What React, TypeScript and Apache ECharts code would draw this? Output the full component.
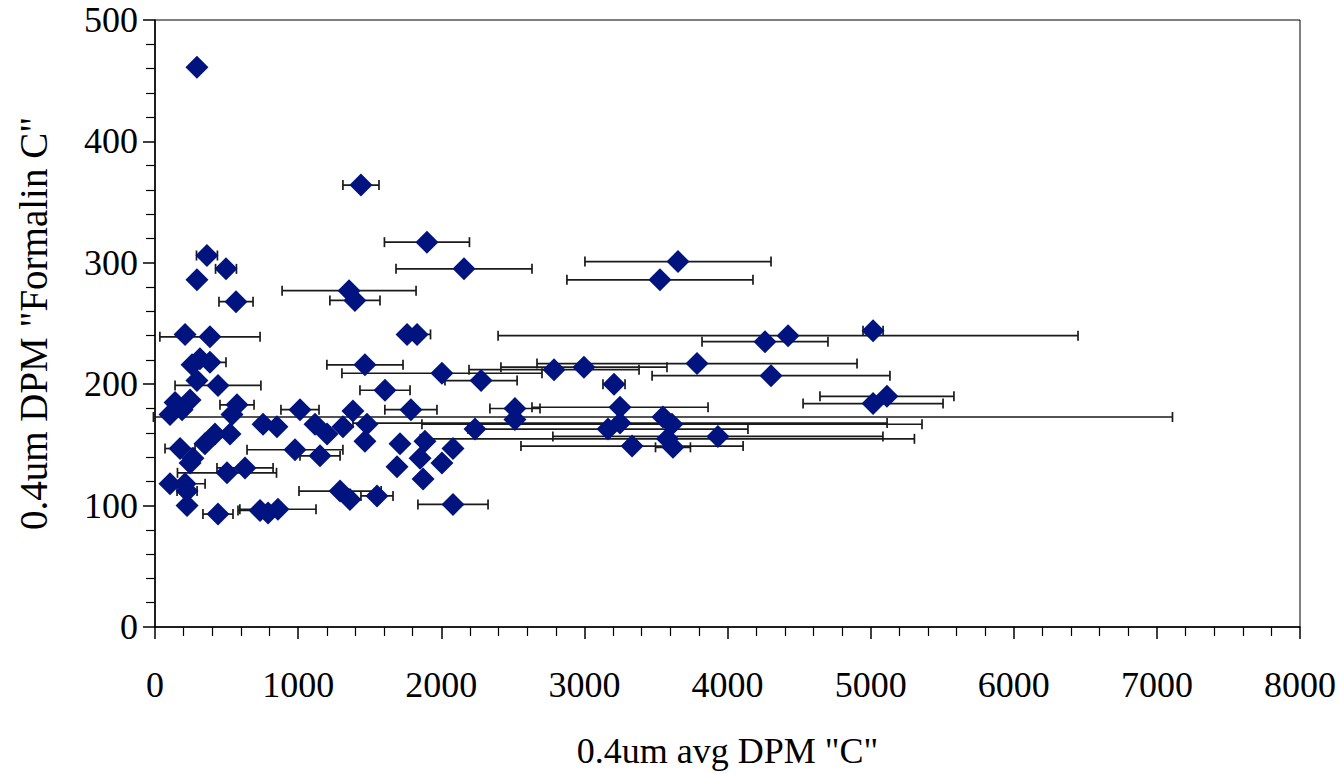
import React, { useEffect, useRef } from "react";
import * as echarts from "echarts";

// 0.4um avg DPM "C" (x), 0.4um DPM "Formalin C" (y), horizontal error (± x)
const xValues = [
  293, 1439, 1900, 2159, 1356, 1397, 363, 496, 293, 566,
  210, 384, 1761, 1831, 314, 384, 259, 293, 440, 140,
  245, 105, 189, 573, 538, 524, 755, 852, 175, 349,
  419, 265, 245, 978, 503, 629, 105, 210, 224, 224,
  440, 734, 790, 859, 1607, 1013, 1383, 1788, 1118, 1202,
  1313, 1481, 1467, 1712, 1886, 2082, 1153, 1691, 1852, 2005,
  1873, 1293, 1362, 1551, 2082, 2515, 2515, 2236, 3249, 3165,
  3249, 3333, 3549, 3612, 3580, 3619, 3933, 3787, 4304, 3207,
  2788, 2997, 2005, 2278, 1467, 3654, 3528, 5017, 4423, 4262,
  5114, 5017,
];
const yValues = [
  461, 364, 317, 295, 277, 269, 306, 295, 286, 268,
  241, 239, 241, 241, 221, 218, 216, 203, 199, 185,
  187, 175, 179, 183, 175, 159, 167, 165, 147, 151,
  159, 139, 135, 146, 127, 131, 118, 118, 112, 100,
  93, 96, 94, 97, 195, 179, 178, 179, 167, 159,
  165, 167, 153, 151, 153, 147, 141, 132, 139, 135,
  122, 112, 105, 108, 101, 180, 171, 163, 181, 163,
  168, 149, 173, 167, 155, 148, 157, 217, 207, 200,
  212, 214, 209, 203, 216, 301, 286, 244, 240, 235,
  190, 184,
];
const xErrors = [
  0, 126, 297, 475, 468, 175, 73, 73, 0, 119,
  0, 350, 0, 94, 0, 112, 0, 0, 300, 0,
  0, 0, 0, 119, 0, 0, 0, 0, 105, 0,
  0, 0, 0, 335, 346, 196, 0, 140, 70, 0,
  105, 154, 0, 266, 175, 133, 0, 182, 0, 0,
  0, 0, 0, 0, 0, 0, 140, 0, 0, 0,
  0, 287, 0, 112, 245, 175, 0, 0, 615, 978,
  1866, 776, 3560, 1747, 1726, 122, 1153, 1118, 831, 77,
  594, 580, 699, 252, 266, 650, 650, 70, 2026, 440,
  468, 489,
];

const xAxisTitle = '0.4um avg DPM "C"';
const yAxisTitle = '0.4um DPM "Formalin C"';

const FONT = "'Liberation Serif', 'DejaVu Serif', serif";

export default function App() {
  const ref = useRef<HTMLDivElement>(null);

  useEffect(() => {
    if (!ref.current) return;
    const chart = echarts.init(ref.current, null, { renderer: "svg" });

    const points = xValues.map((x, i) => [x, yValues[i]]);
    const errData = xValues
      .map((x, i) => [x - xErrors[i], x + xErrors[i], yValues[i]])
      .filter((_, i) => xErrors[i] > 0);

    chart.setOption({
      animation: false,
      backgroundColor: "#ffffff",
      grid: {
        left: 155,
        right: 40,
        top: 20,
        bottom: 142,
        show: true,
        borderColor: "#000",
        borderWidth: 1,
        backgroundColor: "transparent",
      },
      xAxis: {
        type: "value",
        min: 0,
        max: 8000,
        interval: 1000,
        name: xAxisTitle,
        nameLocation: "middle",
        nameGap: 106,
        nameTextStyle: { fontFamily: FONT, fontSize: 36, color: "#000" },
        axisLine: { show: true, lineStyle: { color: "#000", width: 1.5 } },
        axisTick: { show: true, inside: false, length: 12, lineStyle: { color: "#000", width: 1.5 } },
        minorTick: { show: true, splitNumber: 5, length: 9, lineStyle: { color: "#000", width: 1.2 } },
        splitLine: { show: false },
        axisLabel: {
          fontFamily: FONT,
          fontSize: 36,
          color: "#000",
          margin: 40,
          formatter: (v: number) => String(v),
        },
      },
      yAxis: {
        type: "value",
        min: 0,
        max: 500,
        interval: 100,
        name: yAxisTitle,
        nameLocation: "middle",
        nameGap: 102,
        nameTextStyle: { fontFamily: FONT, fontSize: 39, color: "#000" },
        axisLine: { show: true, lineStyle: { color: "#000", width: 1.5 } },
        axisTick: { show: true, inside: false, length: 12, lineStyle: { color: "#000", width: 1.5 } },
        minorTick: { show: true, splitNumber: 5, length: 9, lineStyle: { color: "#000", width: 1.2 } },
        splitLine: { show: false },
        axisLabel: {
          fontFamily: FONT,
          fontSize: 36,
          color: "#000",
          margin: 17,
          formatter: (v: number) => String(v),
        },
      },
      series: [
        {
          type: "custom",
          name: "error",
          data: errData,
          z: 1,
          renderItem: (params: any, api: any) => {
            const lo = api.coord([api.value(0), api.value(2)]);
            const hi = api.coord([api.value(1), api.value(2)]);
            const cap = 5;
            const style = { stroke: "#1a1a1a", lineWidth: 1.7 };
            return {
              type: "group",
              children: [
                { type: "line", shape: { x1: lo[0], y1: lo[1], x2: hi[0], y2: hi[1] }, style },
                { type: "line", shape: { x1: lo[0], y1: lo[1] - cap, x2: lo[0], y2: lo[1] + cap }, style },
                { type: "line", shape: { x1: hi[0], y1: hi[1] - cap, x2: hi[0], y2: hi[1] + cap }, style },
              ],
            };
          },
        },
        {
          type: "scatter",
          name: "DPM",
          data: points,
          symbol: "diamond",
          symbolSize: 23,
          z: 3,
          itemStyle: { color: "#00137f", opacity: 1 },
        },
      ],
    });

    return () => chart.dispose();
  }, []);

  return (
    <div
      ref={ref}
      style={{ position: "fixed", left: 0, top: 0, width: 1340, height: 774, background: "#fff" }}
    />
  );
}
